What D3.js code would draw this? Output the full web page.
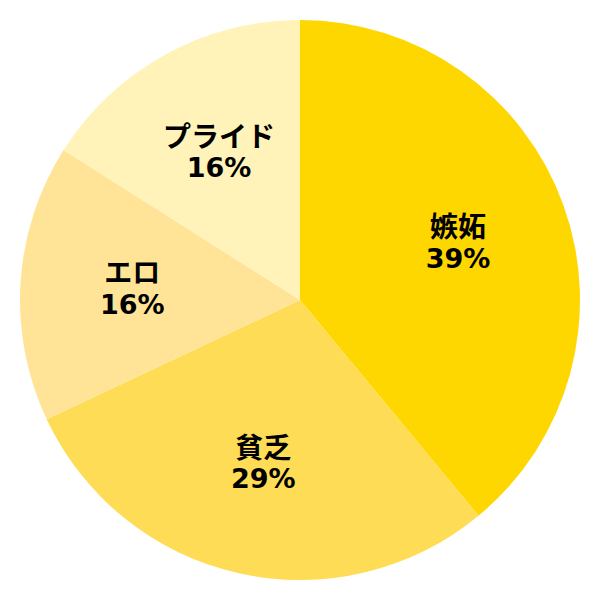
<!DOCTYPE html>
<html>
<head>
<meta charset="utf-8">
<script src="https://cdn.jsdelivr.net/npm/d3@7"></script>
<style>
  body { margin: 0; background: #fff; }
  text { font-family: "DejaVu Sans", "Noto Sans CJK JP", sans-serif; font-weight: bold; }
  text.name { font-family: "Noto Sans CJK JP", sans-serif; font-weight: bold; }
</style>
</head>
<body>
<div id="chart"></div>
<script>
// chart data
var labels = ["嫉妬", "貧乏", "エロ", "プライド"];
var values = [39, 29, 16, 16];
var colors = ["#FFD700", "#FFDC55", "#FFE498", "#FFF3BA"];

var width = 600, height = 600;
var radius = 280;

var svg = d3.select("#chart").append("svg").attr("width", width).attr("height", height);
var g = svg.append("g").attr("transform", "translate(" + width / 2 + "," + height / 2 + ")");

var pie = d3.pie().sort(null).value(function(d) { return d; });
var arcs = pie(values);

var arc = d3.arc().innerRadius(0).outerRadius(radius);
var labelArc = d3.arc().innerRadius(radius * 0.6).outerRadius(radius * 0.6);

g.selectAll("path").data(arcs).enter().append("path")
  .attr("d", arc)
  .attr("fill", function(d, i) { return colors[i]; });

// labels: name on top, percent below
var lbl = g.selectAll("g.lbl").data(arcs).enter().append("g")
  .attr("class", "lbl")
  .attr("transform", function(d) { return "translate(" + labelArc.centroid(d) + ")"; });

lbl.append("text")
  .attr("class", "name")
  .attr("text-anchor", "middle")
  .attr("y", -16)
  .attr("dy", "0.35em")
  .style("font-size", "28px")
  .text(function(d, i) { return labels[i]; });

lbl.append("text")
  .attr("text-anchor", "middle")
  .attr("y", 15)
  .attr("dy", "0.35em")
  .style("font-size", "27px")
  .text(function(d) { return d.value + "%"; });
</script>
</body>
</html>
